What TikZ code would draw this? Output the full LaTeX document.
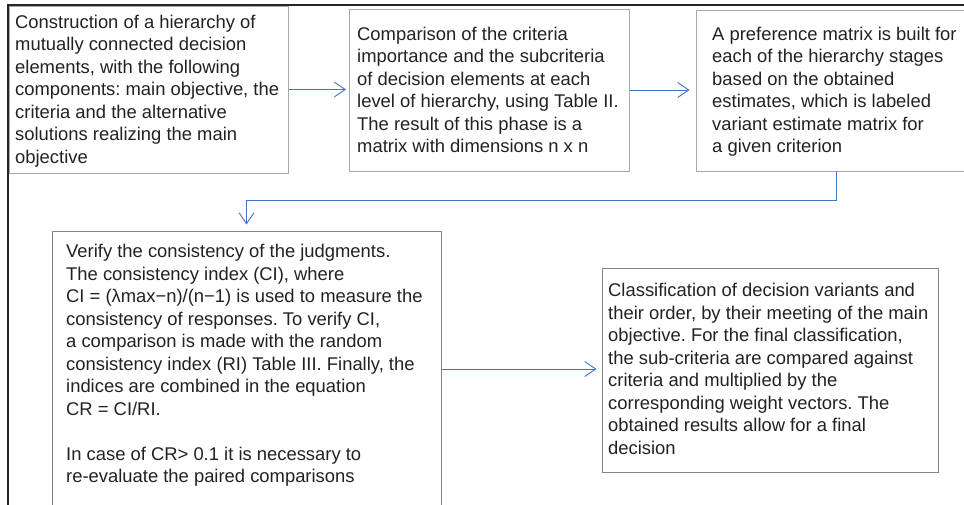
\documentclass[tikz,border=0pt]{standalone}
\usepackage{fontspec}
\setmainfont{Liberation Sans}
\usetikzlibrary{arrows.meta,calc}
\definecolor{txtc}{HTML}{222222}
\definecolor{boxc}{HTML}{A8A8A8}
\definecolor{boxd}{HTML}{858585}
\definecolor{arrc}{HTML}{4472C4}
\definecolor{framec}{HTML}{262626}
\frenchspacing
\begin{document}
\begin{tikzpicture}[x=1pt,y=-1pt,
  box/.style={draw=boxc, line width=1pt, rectangle, inner sep=0pt},
  txt/.style={anchor=north west, inner sep=0pt, align=left, text=txtc,
    font=\fontsize{18.4}{22.5}\selectfont},
  conn/.style={draw=arrc, line width=1pt,
    -{Straight Barb[length=11pt,width=15pt,line width=0.9pt]}}]
\useasboundingbox (0,0) rectangle (964,504);
\fill[white] (0,0) rectangle (964,504);
% outer frame
\draw[framec, line width=1.5pt] (8,620) -- (8,5) -- (1000,5);
% boxes
\node[box, minimum width=279pt, minimum height=167pt] (b1) at (148.5,89.5) {};
\node[box, minimum width=280pt, minimum height=162pt] (b2) at (489,90) {};
\node[box, minimum width=320pt, minimum height=161pt] (b3) at (856,90.5) {};
\node[box, draw=boxd, minimum width=389pt, minimum height=276pt] (b4) at (246.5,369) {};
\node[box, draw=boxd, minimum width=336pt, minimum height=204pt] (b5) at (770,370) {};
% texts
\node[txt] (t1) at (15,14.5) {Construction of a hierarchy of\\ mutually connected decision\\ elements, with the following\\ components: main objective, the\\ criteria and the alternative\\ solutions realizing the main\\ objective};
\node[txt] (t2) at (357,26.5) {Comparison of the criteria\\ importance and the subcriteria\\ of decision elements at each\\ level of hierarchy, using Table II.\\ The result of this phase is a\\ matrix with dimensions n x n};
\node[txt] (t3) at (712,26.5) {A preference matrix is built for\\ each of the hierarchy stages\\ based on the obtained\\ estimates, which is labeled\\ variant estimate matrix for\\ a given criterion};
\node[txt] (t4) at (66,244) {Verify the consistency of the judgments.\\ The consistency index (CI), where\\ CI = (λmax−n)/(n−1) is used to measure the\\ consistency of responses. To verify CI,\\ a comparison is made with the random\\ consistency index (RI) Table III. Finally, the\\ indices are combined in the equation\\ CR = CI/RI.\\[22.5pt] In case of CR> 0.1 it is necessary to\\ re-evaluate the paired comparisons};
\node[txt] (t5) at (608,283) {Classification of decision variants and\\ their order, by their meeting of the main\\ objective. For the final classification,\\ the sub-criteria are compared against\\ criteria and multiplied by the\\ corresponding weight vectors. The\\ obtained results allow for a final\\ decision};
% connectors
\coordinate (c3) at (836,171);
\draw[conn, shorten >=2.5pt] (b1.east) -- (b1.east -| b2.west);
\draw[conn, shorten >=6pt] (b2.east) -- (b2.east -| b3.west);
\draw[conn, shorten >=6pt] (c3) -- ++(0,29) -| (b4.north);
\draw[conn, shorten >=5pt] (b4.east) -- (b4.east -| b5.west);
\end{tikzpicture}
\end{document}
